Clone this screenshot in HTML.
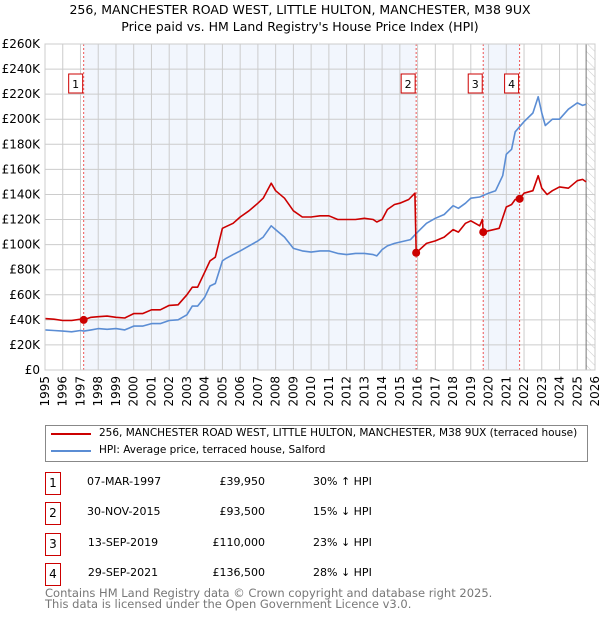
<!DOCTYPE html>
<html><head><meta charset="utf-8"><style>
body{margin:0;width:600px;height:620px;background:#fff;font-family:"DejaVu Sans","Liberation Sans",sans-serif;overflow:hidden;position:relative}
.t{position:absolute;white-space:nowrap;color:#000}
.box{position:absolute;width:14px;height:21px;border:1px solid #c00;font-size:12px;text-align:center;line-height:21px;background:#fff}
</style></head><body>
<div class="t" style="left:0;width:600px;text-align:center;top:2px;font-size:12.5px">256, MANCHESTER ROAD WEST, LITTLE HULTON, MANCHESTER, M38 9UX</div>
<div class="t" style="left:0;width:600px;text-align:center;top:19px;font-size:12.5px">Price paid vs. HM Land Registry's House Price Index (HPI)</div>
<svg id="chart" width="600" height="420" style="position:absolute;left:0;top:0" font-family="DejaVu Sans, Liberation Sans, sans-serif"></svg>
<div style="position:absolute;left:45px;top:425px;width:541px;height:35px;border:1px solid #888"></div>
<div style="position:absolute;left:51px;top:433px;width:40px;height:2px;background:#c00"></div>
<div class="t" style="left:99px;top:427px;font-size:10.5px">256, MANCHESTER ROAD WEST, LITTLE HULTON, MANCHESTER, M38 9UX (terraced house)</div>
<div style="position:absolute;left:51px;top:450px;width:40px;height:2px;background:#5b8dd4"></div>
<div class="t" style="left:99px;top:444px;font-size:10.5px">HPI: Average price, terraced house, Salford</div>
<div id="tbl"></div>
<div class="t" style="left:45px;top:588px;font-size:11.5px;color:#777;line-height:11px">Contains HM Land Registry data © Crown copyright and database right 2025.<br>This data is licensed under the Open Government Licence v3.0.</div>
<script>
const hpiT=[1995,1995.5,1996,1996.5,1997,1997.2,1997.6,1998,1998.5,1999,1999.5,2000,2000.5,2001,2001.5,2002,2002.5,2003,2003.3,2003.6,2004,2004.3,2004.6,2005,2005.2,2005.6,2006,2006.5,2007,2007.3,2007.75,2008,2008.5,2009,2009.5,2010,2010.5,2011,2011.5,2012,2012.5,2013,2013.5,2013.7,2014,2014.3,2014.7,2015,2015.6,2016,2016.5,2017,2017.5,2018,2018.3,2018.7,2019,2019.5,2020,2020.4,2020.8,2021,2021.3,2021.5,2022,2022.5,2022.8,2023,2023.2,2023.6,2024,2024.5,2025,2025.3,2025.5];
const hpiV=[32,31.5,31,30.5,31.5,31,32,33,32.5,33,32,35,35,37,37,39.5,40,44,51,51,58,67,69,87,89,92,95,99,103,106,115,112,106,97,95,94,95,95,93,92,93,93,92,91,96,99,101,102,104,110,117,121,124,131,129,133,137,138,141,143,155,172,176,190,198,205,218,205,195,200,200,208,213,211,212];
const ppT=[1995,1995.5,1996,1996.5,1997,1997.18,1997.6,1998,1998.5,1999,1999.5,2000,2000.5,2001,2001.5,2002,2002.5,2003,2003.3,2003.6,2004,2004.3,2004.6,2005,2005.3,2005.6,2006,2006.5,2007,2007.3,2007.75,2008,2008.5,2009,2009.5,2010,2010.5,2011,2011.5,2012,2012.5,2013,2013.5,2013.7,2014,2014.3,2014.7,2015,2015.5,2015.85,2015.92,2016.5,2017,2017.5,2018,2018.3,2018.7,2019,2019.5,2019.65,2019.7,2020,2020.6,2021,2021.3,2021.5,2021.75,2022,2022.5,2022.8,2023,2023.3,2023.6,2024,2024.5,2025,2025.3,2025.5];
const ppV=[41,40.5,39.5,39.5,40.5,40,42,42.5,43,42,41.5,45,45,48,48,51.5,52,60,66,66,78,87,90,113,115,117,122,127,133,137,149,143,137,127,122,122,123,123,120,120,120,121,120,118,120,128,132,133,136,141,93.5,101,103,106,112,110,117,119,115,120,110,111,113,130,132,136,136.5,141,143,155,145,140,143,146,145,151,152,150];
const saleT=[1997.18,2015.92,2019.7,2021.75];
const saleV=[39.95,93.5,110,136.5];
const saleLbl=['1','2','3','4'];
const saleDates=['07-MAR-1997','30-NOV-2015','13-SEP-2019','29-SEP-2021'];
const salePrices=['£39,950','£93,500','£110,000','£136,500'];
const salePct=['30% ↑ HPI','15% ↓ HPI','23% ↓ HPI','28% ↓ HPI'];
const yTicks=[0,20,40,60,80,100,120,140,160,180,200,220,240,260];
const yLabels=['£0','£20K','£40K','£60K','£80K','£100K','£120K','£140K','£160K','£180K','£200K','£220K','£240K','£260K'];
const xYears=[1995,1996,1997,1998,1999,2000,2001,2002,2003,2004,2005,2006,2007,2008,2009,2010,2011,2012,2013,2014,2015,2016,2017,2018,2019,2020,2021,2022,2023,2024,2025,2026];

const L=45,R=595,T=44,B=370;
const X=y=>L+(y-1995)*(R-L)/31;
const Y=v=>B-v*(B-T)/260;
const svg=document.getElementById('chart');
const NS='http://www.w3.org/2000/svg';
function mk(tag,at){const e=document.createElementNS(NS,tag);for(const k in at)e.setAttribute(k,at[k]);svg.appendChild(e);return e;}
let e=mk('rect',{x:X(saleT[0]),y:T,width:X(saleT[1])-X(saleT[0]),height:B-T,fill:'#f2f6fd'});


e=mk('rect',{x:X(saleT[2]),y:T,width:X(saleT[3])-X(saleT[2]),height:B-T,fill:'#f2f6fd'});


const defs=mk('defs',{});
defs.innerHTML='<pattern id="h" width="6" height="6" patternUnits="userSpaceOnUse" patternTransform="rotate(-45)"><line x1="0" y1="0" x2="0" y2="6" stroke="#ccc" stroke-width="1"/></pattern>';
const hx=X(2025.5);
e=mk('rect',{x:hx,y:T,width:R-hx,height:B-T,fill:'url(#h)'});


yTicks.forEach((v,i)=>{
 const g=mk('line',{x1:L,x2:R,y1:Y(v),y2:Y(v),stroke:'#ccc','stroke-width':1});
 
 
 const t=mk('text',{x:L-5,y:Y(v)+4,'text-anchor':'end','font-size':12,fill:'#000'});
 t.textContent=yLabels[i];
 
 
});
xYears.forEach(yr=>{
 const g=mk('line',{x1:X(yr),x2:X(yr),y1:T,y2:B,stroke:'#ccc','stroke-width':1});
 
 
 const t=mk('text',{transform:`translate(${X(yr)+4},${B+6}) rotate(-90)`,'text-anchor':'end','font-size':12,fill:'#000'});
 t.textContent=yr;
 
 
});
e=mk('line',{x1:hx,x2:hx,y1:T,y2:B,stroke:'#777','stroke-width':1});


saleT.forEach((t,i)=>{
 const l=mk('line',{x1:X(t),x2:X(t),y1:T,y2:B,stroke:'#e55','stroke-width':1,'stroke-dasharray':'2,2'});
 
 
});
function path(ts,vs,col,name){
 const d=ts.map((t,i)=>(i?'L':'M')+X(t).toFixed(1)+','+Y(vs[i]).toFixed(1)).join('');
 const p=mk('path',{d:d,fill:'none',stroke:col,'stroke-width':1.6,'stroke-linejoin':'round'});
 
 
}
path(hpiT,hpiV,'#5b8dd4','hpi-line');
path(ppT,ppV,'#c00','price-paid-line');
saleT.forEach((t,i)=>{
 const c=mk('circle',{cx:X(t),cy:Y(saleV[i]),r:4,fill:'#c00'});
 
 
 const r=mk('rect',{x:X(t)-15,y:74,width:14,height:19,fill:'#fff',stroke:'#c00'});
 
 
 const tx=mk('text',{x:X(t)-8,y:88,'text-anchor':'middle','font-size':11,fill:'#000'});
 tx.textContent=saleLbl[i];
 
 
});
e=mk('rect',{x:L,y:T,width:R-L,height:B-T,fill:'none',stroke:'#ccc'});


const tbl=document.getElementById('tbl');
saleLbl.forEach((lb,i)=>{
 const cy=483+i*30.3;
 const b=document.createElement('div');b.className='box';b.style.left='45px';b.style.top=(cy-11)+'px';b.textContent=lb;
 
 
 tbl.appendChild(b);
 const cells=[[saleDates[i],87,72,'center','sale-date'],[salePrices[i],165,100,'right','sale-price'],[salePct[i],313,100,'left','hpi-diff']];
 cells.forEach(c=>{
  const d=document.createElement('div');d.className='t';d.style.left=c[1]+'px';d.style.width=c[2]+'px';d.style.textAlign=c[3];d.style.top=(cy-8)+'px';d.style.fontSize='11px';d.textContent=c[0];
  
  
  tbl.appendChild(d);
 });
});
</script>
</body></html>
